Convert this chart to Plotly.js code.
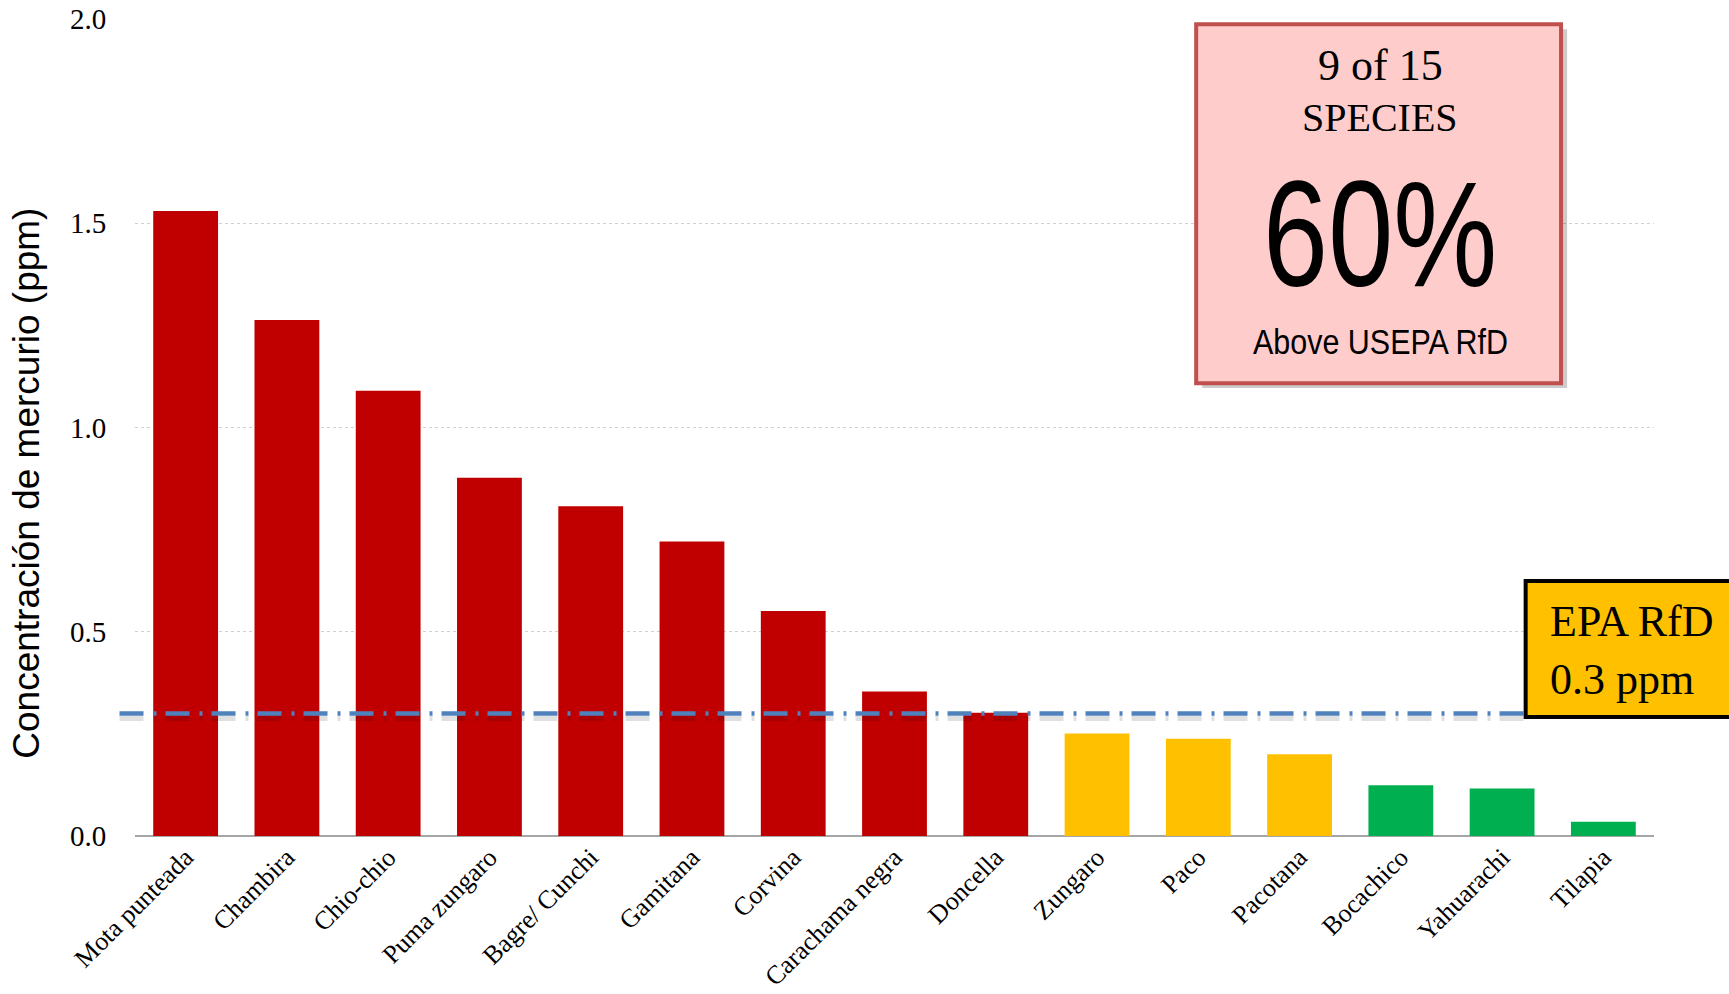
<!DOCTYPE html>
<html>
<head>
<meta charset="utf-8">
<script src="https://cdn.plot.ly/plotly-3.0.1.min.js"></script>
<style>
  html, body { margin: 0; padding: 0; background: #ffffff; }
  #chart { width: 1729px; height: 994px; }
</style>
</head>
<body>
<div id="chart"></div>
<script>
// ---- Data ----
const species = ["Mota punteada", "Chambira", "Chio-chio", "Puma zungaro", "Bagre/ Cunchi",
  "Gamitana", "Corvina", "Carachama negra", "Doncella", "Zungaro", "Paco", "Pacotana",
  "Bocachico", "Yahuarachi", "Tilapia"];
const mercury = [1.53, 1.263, 1.09, 0.877, 0.807, 0.721, 0.551, 0.354, 0.302, 0.251, 0.238, 0.200, 0.124, 0.116, 0.035];
const riskGroup = ["high", "high", "high", "high", "high", "high", "high", "high", "high",
  "mid", "mid", "mid", "low", "low", "low"];
const rfdValue = 0.3;
const yTicks = [0, 0.5, 1.0, 1.5, 2.0];
const yTickLabels = ["0.0", "0.5", "1.0", "1.5", "2.0"];

const groupColors = { high: "#c00000", mid: "#ffc000", low: "#00b050" };

const serif = "'Liberation Serif', 'Times New Roman', serif";
const sans = "'Liberation Sans', Arial, sans-serif";

const trace = {
  type: "bar",
  x: species,
  y: mercury,
  marker: { color: riskGroup.map(g => groupColors[g]), line: { width: 0 } },
  hoverinfo: "x+y"
};

const layout = {
  width: 1729,
  height: 994,
  margin: { l: 135, r: 75, t: 19, b: 158 },
  paper_bgcolor: "#ffffff",
  plot_bgcolor: "#ffffff",
  bargap: 0.36,
  showlegend: false,
  xaxis: {
    type: "category",
    tickangle: -45,
    tickfont: { family: serif, size: 26, color: "#000000" },
    showgrid: false,
    showline: false,
    ticks: "",
    zeroline: false
  },
  yaxis: {
    range: [0, 2.0],
    tickvals: yTicks,
    ticktext: yTickLabels,
    tickfont: { family: serif, size: 29, color: "#000000" },
    showgrid: true,
    gridcolor: "#d0d0d0",
    griddash: "dot",
    gridwidth: 1,
    zeroline: true,
    zerolinecolor: "#a6a6a6",
    zerolinewidth: 2,
    ticks: "outside",
    ticklen: 22,
    tickcolor: "rgba(0,0,0,0)"
  },
  shapes: [
    // RfD line shadow
    { type: "line", xref: "paper", yref: "y", x0: -0.0102, x1: 0.915,
      ysizemode: "pixel", yanchor: rfdValue, y0: -5, y1: -5,
      line: { color: "rgba(0,0,0,0.12)", width: 5, dash: "24px,10px,3px,9px" } },
    // RfD line
    { type: "line", xref: "paper", yref: "y", x0: -0.0102, x1: 0.915,
      y0: rfdValue, y1: rfdValue,
      line: { color: "#4f81bd", width: 4.5, dash: "24px,10px,3px,9px" } },
    // Pink box shadow
    { type: "rect", xref: "paper", yref: "paper", x0: 0.7026, x1: 0.9428, y0: 0.5483, y1: 0.9875,
      fillcolor: "rgba(0,0,0,0.2)", line: { width: 0 } },
    // Pink box
    { type: "rect", xref: "paper", yref: "paper", x0: 0.6986, x1: 0.9388, y0: 0.5543, y1: 0.9935,
      fillcolor: "#ffcccc", line: { color: "#c0504d", width: 4 } },
    // Yellow box
    { type: "rect", xref: "paper", yref: "paper", x0: 0.9155, x1: 1.08, y0: 0.1456, y1: 0.312,
      fillcolor: "#ffc000", line: { color: "#000000", width: 4 } }
  ],
  annotations: [
    { xref: "paper", yref: "paper", x: 0.8197, y: 0.943, xanchor: "center", yanchor: "middle",
      text: "9 of 15", showarrow: false, font: { family: serif, size: 44, color: "#000000" } },
    { xref: "paper", yref: "paper", x: 0.8197, y: 0.879, xanchor: "center", yanchor: "middle",
      text: "SPECIES", showarrow: false, font: { family: serif, size: 40, color: "#000000" } },
    { xref: "paper", yref: "paper", x: 0.8197, y: 0.737, xanchor: "center", yanchor: "middle",
      text: "60%", showarrow: false, font: { family: sans, size: 150, color: "#000000" },
      name: "condense:234" },
    { xref: "paper", yref: "paper", x: 0.8197, y: 0.6057, xanchor: "center", yanchor: "middle",
      text: "Above USEPA RfD", showarrow: false, font: { family: sans, size: 35, color: "#000000" },
      name: "condense:255" },
    { xref: "paper", yref: "paper", x: 0.930, y: 0.263, xanchor: "left", yanchor: "middle",
      text: "EPA RfD", showarrow: false, font: { family: serif, size: 44, color: "#000000" } },
    { xref: "paper", yref: "paper", x: 0.930, y: 0.192, xanchor: "left", yanchor: "middle",
      text: "0.3 ppm", showarrow: false, font: { family: serif, size: 44, color: "#000000" } },
    // Y-axis title
    { xref: "paper", yref: "paper", x: -0.072, y: 0.432, xanchor: "center", yanchor: "middle",
      textangle: -90, text: "Concentración de mercurio (ppm)", showarrow: false,
      font: { family: sans, size: 37, color: "#000000" } }
  ]
};

Plotly.newPlot("chart", [trace], layout, { displayModeBar: false }).then(function (gd) {
  // Condense selected annotation texts horizontally (narrow face look), keeping them real text
  const anns = gd.layout.annotations;
  const groups = gd.querySelectorAll(".annotation");
  anns.forEach(function (a, i) {
    if (a.name && a.name.indexOf("condense:") === 0) {
      const len = parseFloat(a.name.split(":")[1]);
      const g = groups[i];
      if (!g) return;
      const t = g.querySelector("text.annotation-text");
      if (!t) return;
      t.setAttribute("textLength", len);
      t.setAttribute("lengthAdjust", "spacingAndGlyphs");
    }
  });
});
</script>
</body>
</html>
